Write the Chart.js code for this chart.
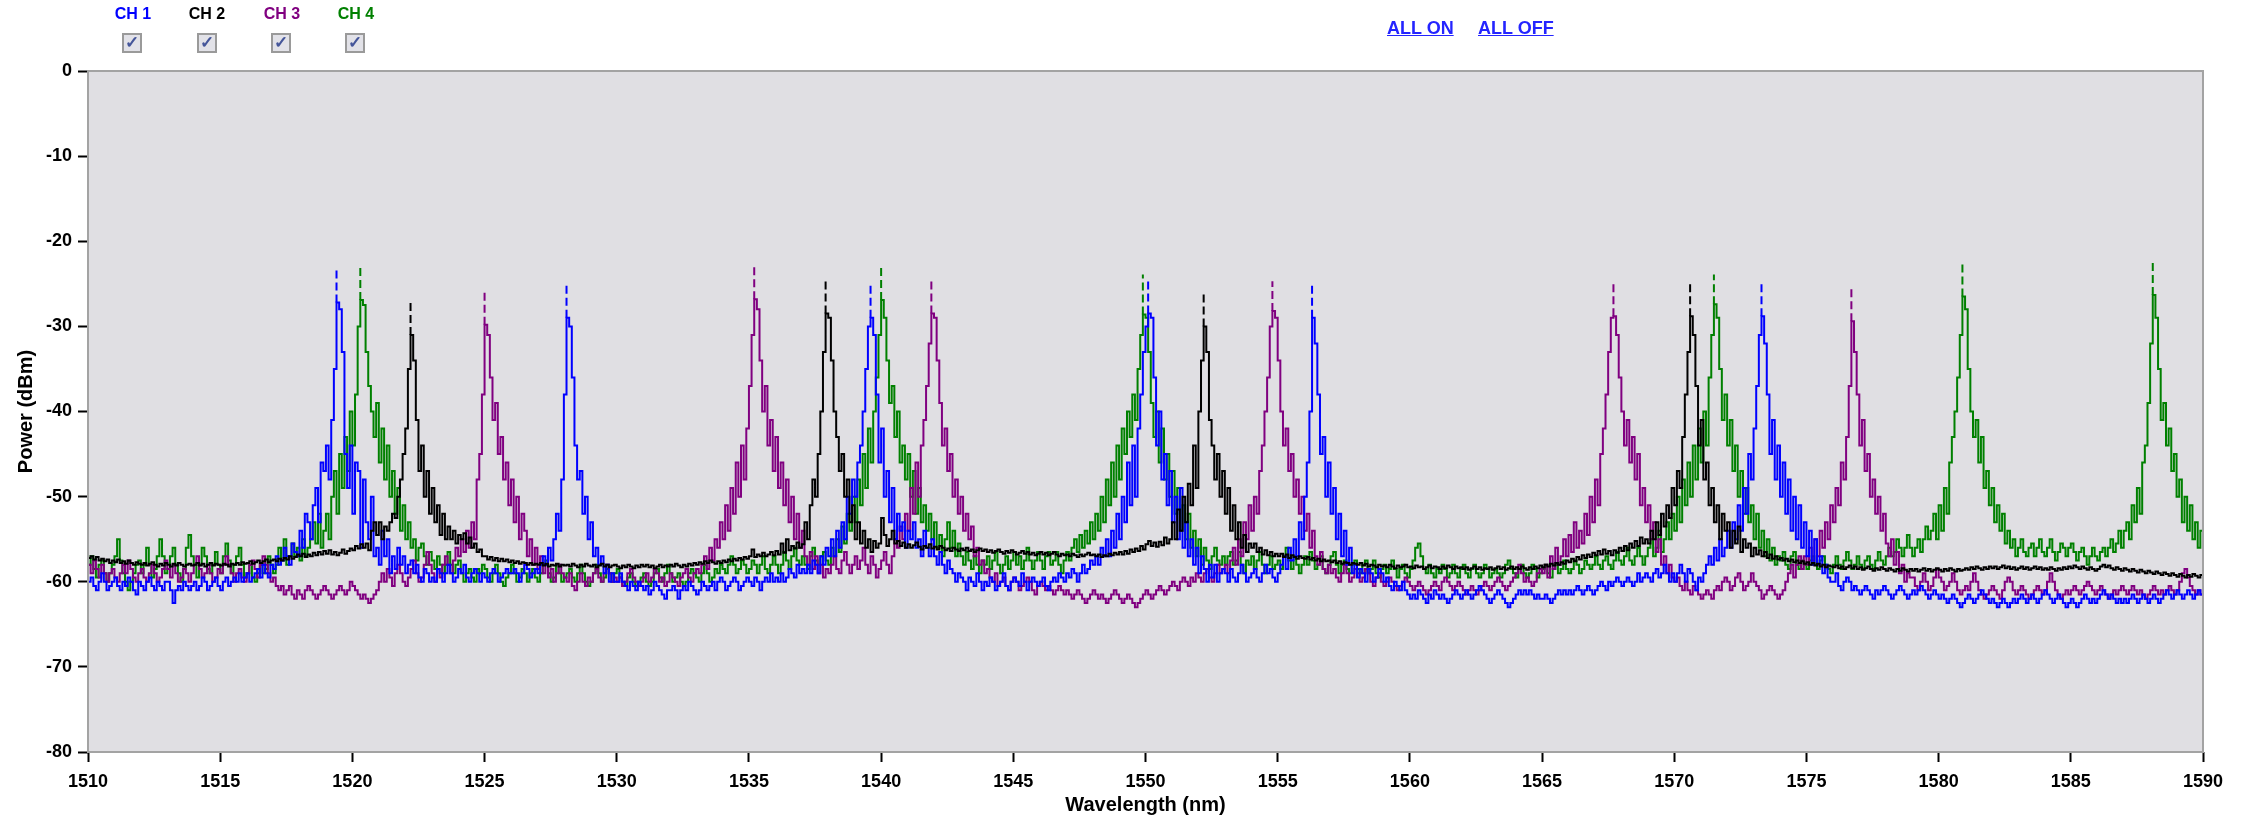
<!DOCTYPE html>
<html lang="en">
<head>
  <meta charset="UTF-8">
  <title>Optical spectrum - CH 1..4</title>
  <script src="https://cdn.jsdelivr.net/npm/chart.js"></script>
  <style>
    body { margin: 0; background: #fff; font-family: "Liberation Sans", Arial, sans-serif; }
    #wrap { position: relative; width: 2249px; height: 818px; }
    .ch { position: absolute; top: 5px; width: 70px; margin-left: -35px; text-align: center; font-weight: bold; font-size: 16px; }
    .box {
      position: absolute; top: 33px; width: 16px; height: 16px; margin-left: -10px;
      border: 2px solid #9a9a9a; background: #e2e2e8; color: #45569a;
      font-size: 17px; font-weight: bold; line-height: 16px; text-align: center;
    }
    .link { position: absolute; top: 18px; font-weight: bold; font-size: 18px; color: #2424ff; text-decoration: underline; }
  </style>
</head>
<body>
<div id="wrap">
  <div class="ch" style="left:133px;color:#0000ff">CH 1</div>
  <div class="ch" style="left:207px;color:#000">CH 2</div>
  <div class="ch" style="left:282px;color:#800080">CH 3</div>
  <div class="ch" style="left:356px;color:#008000">CH 4</div>
  <div class="box" style="left:132px">&#10003;</div>
  <div class="box" style="left:207px">&#10003;</div>
  <div class="box" style="left:281px">&#10003;</div>
  <div class="box" style="left:355px">&#10003;</div>
  <div class="link" style="left:1387px">ALL ON</div>
  <div class="link" style="left:1478px">ALL OFF</div>
  <canvas id="osa" width="2249" height="818"></canvas>
</div>

<script>
  // wavelength grid: one sample every 0.1 nm from 1510 to 1590 (one row = 1 nm)
  const WL_START = 1510;
  const WL_STEP = 0.1;
  const xTicks = [1510, 1515, 1520, 1525, 1530, 1535, 1540, 1545, 1550, 1555, 1560, 1565, 1570, 1575, 1580, 1585, 1590];
  const yTicks = [0, -10, -20, -30, -40, -50, -60, -70, -80];

  // CH 1 (blue) power, dBm
  const ch1Power = [
    -60,-59.5,-60.5,-61,-60,-59,-60,-61,-60.5,-60,
    -59.5,-60.5,-61,-60,-60.5,-59.5,-60,-61,-61.5,-60,
    -60.5,-61,-60,-59.5,-60.5,-61,-60,-60.5,-61,-60,
    -60,-61,-62.5,-61,-60.5,-61,-60,-60.5,-61,-60.5,
    -60,-61,-60.5,-59.5,-60,-61,-60.5,-60,-59.5,-60.5,
    -61,-60,-59.5,-60.5,-60,-59.5,-60,-59,-60,-59.5,
    -59,-60,-59.5,-59,-58.5,-59.5,-58,-59,-59.5,-58,
    -58.5,-57,-58,-57.5,-56,-57,-58,-55.5,-56.5,-57,
    -54,-56,-52,-53,-55,-51,-49,-53,-46,-47,
    -44,-48,-41,-35,-27.2,-28,-33,-45,-49,-44,
    -52,-46,-47,-56,-48,-53,-55,-50,-57,-56,
    -58,-54,-57,-55,-59,-57,-58.5,-56,-58,-57,
    -59,-58,-57.5,-59,-58,-59.5,-60,-58.5,-59,-60,
    -59.5,-60,-58.5,-59,-60,-59,-58,-59,-60,-59.5,
    -58.5,-59,-58,-59.5,-60,-59,-58.5,-59,-60,-59,
    -59.5,-60,-59,-58.5,-59,-60,-59.5,-59,-58.5,-59,
    -59,-58.5,-59,-60,-59,-58,-58.5,-59.5,-59,-58.5,
    -59,-58,-57,-58,-56,-57.5,-55,-52,-54,-48,
    -38,-29,-30,-36,-44,-48,-47,-52,-50,-55,
    -53,-57,-56,-58,-57,-59,-58,-60,-59,-60,
    -60,-59,-60,-60.5,-61,-60,-60.5,-61,-60,-60.5,
    -61,-60.5,-61.5,-61,-60,-60.5,-61,-61.5,-62,-61,
    -61,-60.5,-61,-62,-61,-60.5,-61,-60,-60.5,-61,
    -61.5,-61,-60,-60.5,-61,-60.5,-60,-61,-60,-59.5,
    -60,-61,-60.5,-60,-59.5,-60,-61,-60.5,-60,-59.5,
    -60,-60.5,-59.5,-60,-61,-60,-59.5,-60,-59,-60,
    -59.5,-60,-59,-60,-59.5,-58.5,-59,-59.5,-58,-59,
    -58.5,-59,-58,-59,-57.5,-58,-59,-57,-58,-56,
    -57,-55,-57,-54,-56,-53,-55,-50,-52,-48,
    -50,-46,-44,-40,-35,-30,-29,-31,-38,-46,
    -42,-50,-47,-53,-49,-55,-52,-54,-53,-56,
    -54,-55,-53,-56,-55,-57,-54,-56,-57,-55,
    -57,-58,-56.5,-58,-59,-57.5,-58.5,-59,-60,-59,
    -59.5,-60,-61,-59.5,-60,-60.5,-59,-60,-61,-60,
    -60.5,-59.5,-60,-61,-60.5,-60,-59,-60.5,-61,-60,
    -59.5,-60,-60.5,-59,-60,-61,-60,-59.5,-60,-60.5,
    -60,-59.5,-60.5,-61,-60,-59.5,-60,-59,-59.5,-60,
    -59,-59.5,-58.5,-59,-60,-59,-58,-59,-58.5,-57.5,
    -58,-57,-58,-56,-57,-55,-57,-54,-56,-52,
    -55,-50,-53,-46,-51,-44,-50,-42,-38,-33,
    -30,-28.5,-29,-36,-44,-40,-48,-45,-51,-47,
    -53,-50,-55,-49,-56,-53,-57,-55,-58,-56,
    -59,-57,-58.5,-60,-58,-59.5,-58,-60,-59,-58.5,
    -59,-60,-58.5,-59.5,-60,-59,-58,-59,-60,-59.5,
    -59,-58.5,-59.5,-60,-59,-58,-59,-58.5,-59.5,-60,
    -59,-58,-57,-58.5,-56,-57.5,-55,-57,-53,-55,
    -50,-46,-40,-29,-32,-38,-45,-43,-50,-46,
    -52,-49,-55,-52,-57,-54,-58,-56,-59,-58,
    -59.5,-58.5,-59,-60,-58.5,-59,-60,-59.5,-58.5,-59,
    -60,-59.5,-60.5,-61,-60,-60.5,-61,-60,-61,-61.5,
    -62,-61.5,-62,-61,-61.5,-62,-62.5,-61.5,-62,-61,
    -61.5,-62,-61.5,-62,-62.5,-62,-61.5,-61,-61.5,-62,
    -61.5,-61,-61.5,-62,-61.5,-61,-60.5,-61,-61.5,-62,
    -62.5,-62,-61.5,-61,-61.5,-62,-62.5,-63,-62.5,-62,
    -61.5,-61,-61.5,-61,-61.5,-61,-61.5,-62,-61.5,-62,
    -62,-61.5,-62,-62.5,-62,-61.5,-61,-61.5,-61,-61.5,
    -61,-61.5,-61,-60.5,-61,-61.5,-61,-60.5,-61,-61.5,
    -61,-60.5,-60,-60.5,-61,-60,-60.5,-60,-59.5,-60,
    -60.5,-60,-59.5,-60,-60.5,-60,-59,-60,-59.5,-59,
    -59.5,-60,-59,-58.5,-59.5,-59,-58,-59,-60,-59,
    -60,-59,-58,-59,-60,-58.5,-59,-60,-61,-59.5,
    -60,-59,-58,-57,-58,-56,-57.5,-55,-57,-56,
    -54,-56,-53,-55,-51,-54,-49,-52,-45,-48,
    -42,-37,-31,-28.8,-32,-38,-45,-41,-48,-44,
    -50,-46,-52,-48,-54,-50,-55,-51,-56,-53,
    -57,-54,-58,-55,-58,-57,-59,-58,-59.5,-60,
    -60,-59,-60.5,-61,-60,-59.5,-60,-61,-60.5,-61,
    -61.5,-61,-60.5,-61,-61.5,-62,-61,-61.5,-61,-60.5,
    -61,-61.5,-62,-61.5,-61,-60.5,-61,-61.5,-62,-61.5,
    -61,-61.5,-61,-60.5,-61,-61.5,-62,-61.5,-61,-61.5,
    -62,-61.5,-62,-62.5,-62,-61.5,-62,-62.5,-63,-62.5,
    -62,-61.5,-62,-62.5,-62,-61.5,-61,-61.5,-62,-62.5,
    -62,-62.5,-63,-62.5,-62,-62.5,-63,-62.5,-62,-62.5,
    -62,-61.5,-62,-62.5,-62,-61.5,-62,-62.5,-62,-61.5,
    -61,-61.5,-62,-62.5,-62,-61.5,-62,-62.5,-63,-62.5,
    -62,-62.5,-63,-62.5,-62,-61.5,-62,-62.5,-62,-62.5,
    -62,-61.5,-61,-61.5,-62,-61.5,-62,-62.5,-62,-62.5,
    -62,-62.5,-62,-61.5,-62,-62.5,-62,-61.5,-62,-62.5,
    -62,-61.5,-62,-62.5,-62,-61.5,-61,-61.5,-62,-61.5,
    -61,-61.5,-62,-61.5,-61,-61.5,-62,-61.5,-61,-61.5,
    -61.5
  ];

  // CH 2 (black) power, dBm
  const ch2Power = [
    -57.2,-57,-57.4,-57.1,-57.5,-57.3,-57.6,-57.4,-57.8,-57.5,
    -57.7,-57.4,-57.8,-57.6,-57.9,-57.5,-57.8,-58,-57.7,-57.9,
    -58,-57.8,-58.1,-57.9,-57.7,-58,-58.2,-57.9,-58.1,-57.8,
    -58,-58.2,-57.9,-58.1,-57.8,-58,-58.2,-58,-57.9,-58.1,
    -58,-57.8,-58.1,-57.9,-58.2,-58,-57.8,-58.1,-57.9,-58,
    -58.1,-57.9,-58,-58.2,-57.9,-58,-57.8,-58,-57.7,-57.9,
    -57.8,-57.6,-57.9,-57.7,-57.5,-57.8,-57.6,-57.4,-57.7,-57.5,
    -57.4,-57.6,-57.3,-57.5,-57.2,-57.4,-57,-57.3,-57.1,-56.8,
    -57,-56.7,-57.1,-56.8,-57,-56.6,-56.9,-56.5,-56.8,-56.4,
    -56.7,-56.3,-56.8,-56.5,-56.9,-56.6,-56.2,-56.7,-56.4,-56.1,
    -56.3,-55.8,-56.1,-55.6,-56,-55.5,-56.3,-54,-53,-54.5,
    -53,-55,-53.5,-54,-53,-52,-52.5,-50,-48,-45,
    -42,-35,-31,-34,-41,-47,-44,-50,-47,-52,
    -49,-53,-51,-54.5,-52,-55,-53.5,-55,-54,-55.5,
    -54.5,-55,-54.3,-55.5,-54.8,-56,-55.5,-56.5,-56.2,-57,
    -57,-57.4,-57.1,-57.5,-57.2,-57.6,-57.3,-57.6,-57.4,-57.7,
    -57.5,-57.8,-57.6,-57.9,-57.7,-57.8,-58,-57.8,-58,-57.9,
    -58,-57.8,-58.1,-57.9,-58.2,-58,-58.1,-57.9,-58.2,-58,
    -58.1,-58,-58.2,-57.9,-58.1,-58.3,-58,-58.2,-57.9,-58.1,
    -58.2,-58,-58.3,-58.1,-57.9,-58.2,-58,-58.3,-58.1,-58,
    -58.2,-58.4,-58.1,-58.3,-58,-58.2,-58.4,-58.1,-58.3,-58,
    -58.2,-58,-58.3,-58.1,-58.4,-58.2,-58,-58.3,-58.1,-58.2,
    -58,-58.2,-57.9,-58.1,-58.3,-58,-58.2,-57.9,-58.1,-57.8,
    -58,-57.7,-57.9,-57.6,-57.8,-57.5,-57.7,-57.9,-57.6,-57.8,
    -57.5,-57.7,-57.4,-57.6,-57.3,-57.5,-57.2,-57.4,-57.1,-57.3,
    -57,-56.2,-57.1,-56.8,-57,-56.6,-57,-56.8,-56.5,-56.9,
    -56.4,-56.8,-55.5,-56.6,-55,-56.3,-55.8,-56.1,-55.4,-56,
    -55.6,-53,-55,-51,-48,-50,-45,-40,-33,-28.5,
    -29,-34,-40,-43,-47,-45,-50,-48,-53,-51,
    -55,-53,-55.5,-54,-56,-55,-56.5,-55.2,-56,-55.5,
    -52.5,-54.5,-55.8,-55,-54,-55.5,-55.2,-55.8,-55.4,-56,
    -55.6,-56,-55.7,-55.4,-55.9,-56.2,-55.8,-56,-55.6,-56.1,
    -55.9,-56.2,-55.8,-56,-56.3,-56.1,-56.4,-56,-56.2,-56.4,
    -56.1,-56.3,-56,-56.4,-56.2,-56.5,-56.3,-56.1,-56.4,-56.2,
    -56.5,-56.3,-56.6,-56.4,-56.2,-56.5,-56.7,-56.4,-56.6,-56.3,
    -56.5,-56.8,-56.6,-56.4,-56.7,-56.5,-56.8,-56.6,-56.9,-56.7,
    -56.5,-56.8,-56.6,-56.9,-56.7,-56.5,-56.8,-57,-56.7,-56.9,
    -56.8,-57,-56.7,-56.9,-57.1,-56.8,-57,-56.8,-56.6,-56.9,
    -56.8,-57,-56.8,-57.1,-56.9,-57,-56.7,-56.9,-56.6,-56.8,
    -56.5,-56.8,-56.4,-56.7,-56.2,-56.5,-56.1,-56.4,-55.8,-56.2,
    -55.6,-55.2,-55.8,-55.4,-55.9,-55.3,-55.7,-54.8,-55.5,-55,
    -53,-55,-51.5,-54,-50,-53,-48.5,-51,-44,-49,
    -40,-34,-30,-33,-41,-44,-48,-45,-50,-47,
    -52,-49,-54,-51,-55,-53,-56,-54.5,-56.5,-55.5,
    -56,-55.5,-56.5,-56,-56.8,-56.3,-56.9,-56.5,-57,-56.7,
    -57,-56.7,-57.1,-56.8,-57.2,-56.9,-57.1,-57.3,-57,-57.2,
    -57.3,-57.1,-57.4,-57.2,-57.5,-57.3,-57.6,-57.4,-57.6,-57.5,
    -57.7,-57.5,-57.8,-57.6,-57.9,-57.7,-57.8,-58,-57.8,-57.9,
    -58,-57.8,-58.1,-57.9,-58.2,-58,-58.1,-58.3,-58,-58.2,
    -58.1,-58.3,-58,-58.2,-58.4,-58.1,-58.3,-58.2,-58,-58.3,
    -58.2,-58.4,-58.1,-58.3,-58.2,-58.5,-58.3,-58.1,-58.4,-58.2,
    -58.3,-58.5,-58.2,-58.4,-58.1,-58.3,-58.5,-58.2,-58.4,-58.3,
    -58.5,-58.3,-58.6,-58.4,-58.2,-58.5,-58.3,-58.6,-58.4,-58.5,
    -58.3,-58.6,-58.4,-58.2,-58.5,-58.3,-58.6,-58.4,-58.2,-58.5,
    -58.3,-58.5,-58.2,-58.4,-58.6,-58.3,-58.5,-58.2,-58.4,-58.1,
    -58.3,-58,-58.2,-57.9,-58.1,-57.8,-58,-57.7,-57.9,-57.5,
    -57.7,-57.3,-57.6,-57.1,-57.4,-56.9,-57.2,-56.8,-57.1,-56.6,
    -56.9,-56.4,-56.8,-56.2,-56.7,-56.4,-56.9,-56.3,-56.6,-56,
    -56.4,-55.8,-56.3,-55.5,-56,-55.2,-55.8,-54.8,-55.5,-55,
    -55.5,-54,-55,-53,-54.5,-52,-53.5,-51,-52.5,-49,
    -51,-47,-49,-43,-38,-33,-28.8,-31,-37,-44,
    -41,-48,-46,-51,-49,-53,-51,-55,-52,-54,
    -53,-56,-54,-55.5,-53.5,-56.5,-55,-56,-55.5,-57,
    -56,-56.8,-56.3,-57,-56.5,-57.2,-56.8,-57.3,-57,-57.4,
    -57.2,-57.5,-57.3,-57.6,-57.4,-57.7,-57.5,-57.8,-57.6,-57.9,
    -57.7,-58,-57.8,-58.1,-57.9,-58.2,-58,-58.3,-58.1,-58.2,
    -58.3,-58.1,-58.4,-58.2,-58.5,-58.3,-58.1,-58.4,-58.2,-58.5,
    -58.3,-58.6,-58.4,-58.2,-58.5,-58.7,-58.4,-58.6,-58.3,-58.5,
    -58.7,-58.4,-58.6,-58.8,-58.5,-58.7,-58.4,-58.6,-58.8,-58.5,
    -58.7,-58.5,-58.8,-58.6,-58.4,-58.7,-58.5,-58.8,-58.6,-58.4,
    -58.6,-58.8,-58.5,-58.7,-58.4,-58.6,-58.8,-58.5,-58.7,-58.6,
    -58.4,-58.6,-58.3,-58.5,-58.2,-58.4,-58.6,-58.3,-58.5,-58.2,
    -58.4,-58.2,-58.5,-58.3,-58.1,-58.4,-58.2,-58.5,-58.3,-58.6,
    -58.4,-58.2,-58.5,-58.3,-58.6,-58.4,-58.2,-58.5,-58.3,-58.6,
    -58.4,-58.6,-58.3,-58.5,-58.7,-58.4,-58.6,-58.3,-58.5,-58.2,
    -58.4,-58.1,-58.3,-58.5,-58.2,-58.4,-58.6,-58.3,-58.5,-58.7,
    -58.5,-58.2,-58,-58.3,-58.1,-58.4,-58.6,-58.3,-58.5,-58.7,
    -58.4,-58.6,-58.8,-58.5,-58.7,-58.9,-58.6,-58.8,-59,-58.7,
    -58.9,-59.1,-58.8,-59,-59.2,-58.9,-59.1,-59.3,-59,-59.2,
    -59.4,-59.1,-59.3,-59.5,-59.2,-59.4,-59.1,-59.3,-59.5,-59.2,
    -59.3
  ];

  // CH 3 (purple) power, dBm
  const ch3Power = [
    -58,-59,-57.5,-58.5,-59.5,-58,-59,-60,-59,-58.5,
    -59.5,-60,-59,-58,-59,-57.5,-58.5,-59.5,-60,-59,
    -58.5,-59.5,-60,-59,-58,-59,-60,-59.5,-58.5,-57.5,
    -58.5,-59.5,-58,-59,-60,-59.5,-58.5,-59,-60,-59,
    -58,-57,-58.5,-59.5,-59,-58,-59,-60,-59.5,-58.5,
    -59,-58,-57,-58,-59,-60,-59,-58.5,-59.5,-60,
    -59,-58,-57.5,-58.5,-59.5,-58,-57,-58,-59,-60,
    -59.5,-60.5,-61,-60.5,-61.5,-61,-60.5,-61.5,-62,-61,
    -61.5,-62,-61,-60.5,-61,-61.5,-62,-61.5,-61,-60.5,
    -61,-61.5,-62,-61.5,-61,-60.5,-61,-61.5,-61,-60,
    -60.5,-61,-61.5,-62,-61.5,-62,-62.5,-62,-61.5,-61,
    -60,-59,-60,-58.5,-59.5,-60.5,-59,-58,-59,-60,
    -60.5,-59.5,-58.5,-57.5,-59,-60,-59.5,-58,-56.5,-58,
    -59,-60,-58.5,-59.5,-58,-57,-58,-59,-57.5,-56,
    -57,-55,-56.5,-54,-56,-53,-55,-48,-45,-38,
    -29.8,-31,-36,-41,-39,-45,-43,-48,-46,-51,
    -48,-53,-50,-55,-52,-54,-57,-55,-58,-56,
    -58.5,-57,-59,-58,-59.5,-58.5,-60,-59,-58,-59,
    -59.5,-60,-59,-60.5,-61,-60,-59,-60,-60.5,-59.5,
    -60,-59,-58.5,-59.5,-60,-59,-58,-59,-60,-59.5,
    -60,-59.5,-60.5,-60,-59,-58.5,-59.5,-60,-60.5,-60,
    -59.5,-59,-60,-59.5,-58.5,-59,-60,-59.5,-60.5,-60,
    -59,-59.5,-60,-60.5,-59.5,-59,-58.5,-59.5,-60,-59,
    -58.5,-59,-58,-57,-58.5,-56,-57.5,-55,-56,-53,
    -55,-51,-54,-49,-52,-46,-50,-44,-48,-42,
    -37,-31,-26.8,-28,-34,-40,-37,-44,-41,-47,
    -43,-49,-46,-51,-48,-53,-50,-55,-52,-56,
    -54,-57,-58,-56.5,-58.5,-57,-59,-58,-59.5,-58.5,
    -59,-58,-57,-58.5,-59,-57.5,-56.5,-58,-59,-58,
    -57,-58.5,-57.5,-56,-58,-59,-57,-58,-59.5,-58.5,
    -57.5,-56.5,-58,-59,-57,-55,-56,-53.5,-55,-52,
    -54,-49,-52,-46,-50,-44,-41,-37,-32,-28.5,
    -29,-34,-39,-44,-42,-47,-45,-50,-48,-52,
    -50,-54,-52,-55,-53.5,-57,-56,-58,-57.5,-59,
    -58.5,-59.5,-60,-59,-60.5,-60,-59.5,-60.5,-61,-60,
    -59.5,-60,-61,-60.5,-60,-59.5,-60,-61,-61.5,-60.5,
    -60,-60.5,-61,-60.5,-61,-61.5,-61,-60.5,-61,-61.5,
    -61,-61.5,-62,-61.5,-61,-61.5,-62,-62.5,-62,-61.5,
    -61,-61.5,-62,-61.5,-62,-62.5,-62,-61.5,-61,-61.5,
    -62,-62.5,-62,-61.5,-62,-62.5,-63,-62.5,-62,-61.5,
    -61,-61.5,-62,-61.5,-61,-60.5,-61,-61.5,-61,-60.5,
    -60,-60.5,-61,-60,-59.5,-60,-60.5,-59.5,-60,-59,
    -59.5,-60,-59,-58.5,-59.5,-60,-59,-58,-59,-58.5,
    -58,-59,-57.5,-56,-58,-55,-57,-53,-55,-51,
    -54,-50,-52,-47,-44,-40,-36,-30,-28.2,-29,
    -34,-40,-44,-42,-47,-45,-50,-48,-52,-50,
    -54,-52,-56,-54,-57,-58,-56.5,-58.5,-59,-58,
    -59,-58.5,-59.5,-60,-59,-58,-59,-60,-59.5,-58.5,
    -59,-60,-59.5,-58.5,-59,-60,-60.5,-59.5,-59,-60,
    -60.5,-60,-59.5,-60,-60.5,-61,-60.5,-60,-59.5,-60,
    -60.5,-61,-60.5,-60,-60.5,-61,-61.5,-61,-60.5,-60,
    -60.5,-61,-60,-59.5,-60,-60.5,-61,-60.5,-60,-60.5,
    -61,-61.5,-61,-60.5,-61,-61.5,-61,-60.5,-60,-60.5,
    -61,-60.5,-60,-59.5,-60,-60.5,-61,-60.5,-60,-59.5,
    -59,-58,-59,-60,-59.5,-60,-60.5,-60,-59,-58.5,
    -59,-58,-59.5,-57,-58.5,-56,-58,-57,-55,-57,
    -54.5,-56.5,-53,-56,-54,-55.5,-52,-54.5,-50,-53,
    -48,-51,-45,-42,-38,-33,-29,-28.8,-31,-36,
    -40,-44,-41,-46,-43,-48,-45,-51,-49,-53,
    -51,-55,-53,-56.5,-55,-58,-57,-59,-58,-59.5,
    -60,-59.5,-60.5,-61,-60,-61,-61.5,-60.5,-61,-61.5,
    -62,-61.5,-61,-61.5,-62,-61,-60.5,-61,-60,-59.5,
    -60,-61,-60.5,-59.5,-59,-60,-61,-60.5,-60,-59,
    -60,-60.5,-61,-62,-61.5,-61,-60.5,-61,-61.5,-62,
    -61.5,-61,-60,-59,-58,-59.5,-58,-57,-58.5,-57,
    -58,-56,-57.5,-55,-57,-54,-56,-53,-55,-51,
    -53,-49,-51,-46,-48,-43,-37,-29.4,-33,-38,
    -44,-41,-47,-45,-50,-48,-52,-50,-54,-52,
    -55.5,-57,-55,-58,-56.5,-59,-58,-60,-59,-59.5,
    -59.5,-60.5,-61,-60,-59,-60,-61,-60.5,-59.5,-58.5,
    -59.5,-60,-61,-60.5,-60,-59,-60,-61,-61.5,-61,
    -60.5,-61,-60,-59,-60,-61,-61.5,-62,-61.5,-61,
    -60.5,-61,-61.5,-62,-61,-60,-59.5,-60,-61,-61.5,
    -61,-60.5,-61,-61.5,-62,-61.5,-61,-60.5,-61,-61.5,
    -61,-60,-59,-60,-61,-61.5,-62,-61.5,-61,-61.5,
    -61,-60.5,-61,-61.5,-61,-60.5,-60,-60.5,-61,-61.5,
    -61,-60.5,-61,-61.5,-62,-61.5,-61,-61.5,-61,-60.5,
    -61,-61.5,-61,-60.5,-61,-61.5,-61,-61.5,-62,-61.5,
    -61,-60.5,-61,-61.5,-61,-61.5,-61,-60.5,-61,-61.5,
    -61,-60,-59,-58.5,-59.5,-60.5,-61,-61.5,-61,-61.5,
    -61.5
  ];

  // CH 4 (green) power, dBm
  const ch4Power = [
    -58,-57,-58.5,-59.5,-58,-57.5,-59,-60,-59,-58,
    -57,-55,-57.5,-59,-60,-61,-60,-59,-58,-57.5,
    -59,-58,-56,-58,-59.5,-58.5,-57,-55,-57,-59,
    -58.5,-57,-56,-58,-59,-60,-58.5,-56,-54.5,-57,
    -58,-59.5,-58,-56,-57,-58.5,-59,-58,-56.5,-58,
    -59,-57,-55.5,-57.5,-59,-58,-57,-56,-58,-59.5,
    -59,-58,-59.5,-60,-59,-58,-59,-58.5,-57,-58,
    -59,-58,-56,-57.5,-55,-58,-57,-55.5,-57,-56,
    -57.5,-55,-57,-56,-55,-53,-55.5,-52,-56,-54,
    -52,-55,-50,-47,-52,-45,-49,-43,-47,-40,
    -44,-38,-30,-26.9,-27.5,-33,-37,-40,-43,-39,
    -46,-42,-48,-44,-50,-47,-52,-49,-54,-51,
    -55,-53,-56,-55,-57.5,-56,-55.5,-57,-58,-56.5,
    -57.5,-58.5,-57,-58,-59,-58,-56.5,-58,-59,-58,
    -57.5,-59,-60,-59,-58.5,-59.5,-60,-58.5,-59,-58,
    -58.5,-59.5,-60,-59,-58,-59,-60,-60.5,-59.5,-59,
    -58,-59,-60,-59.5,-58.5,-59,-60,-59,-58.5,-59.5,
    -60,-59,-58,-57.5,-59,-60,-59.5,-58,-59,-60,
    -59.5,-59,-58.5,-59.5,-60,-59,-58,-59,-60,-60.5,
    -60,-59,-58,-59,-60,-59.5,-58.5,-59,-60,-59,
    -58.5,-59.5,-60,-60.5,-59.5,-59,-60,-60.5,-60,-59.5,
    -59,-60,-60.5,-60,-59,-58.5,-59.5,-60,-59,-58,
    -59,-60,-59.5,-59,-60,-60.5,-60,-59,-58.5,-59,
    -59.5,-60,-59,-58,-59,-60,-59.5,-58.5,-59,-58,
    -58.5,-59,-58,-57,-58,-59,-58.5,-57.5,-58,-59,
    -58.5,-57.5,-58,-59,-58,-57,-58.5,-59,-58,-57,
    -58,-59,-58,-56.5,-57.5,-58.5,-57,-56,-57.5,-58,
    -57,-58,-58.5,-57,-56,-57.5,-58,-57,-56.5,-57.5,
    -58,-56,-57,-55,-56.5,-53.5,-55.5,-52,-54,-50,
    -53,-48,-51,-45,-49,-42,-46,-40,-36,-31,
    -26.9,-29,-34,-39,-37,-43,-40,-46,-44,-48,
    -45,-50,-47,-52,-49,-53,-51,-54,-52,-55,
    -53,-56,-54.5,-57,-55,-53,-56,-54,-57,-55.5,
    -57,-58,-56.5,-57.5,-58.5,-57,-58,-59,-57.5,-58,
    -57,-58.5,-57.5,-56.5,-58,-59,-58,-57,-58.5,-57.5,
    -56.5,-58,-57,-58.5,-57.5,-56,-57.5,-58.5,-57.5,-56.5,
    -57.5,-58.5,-57,-56.5,-58,-57.5,-56.5,-58,-59,-57.5,
    -56.5,-57.5,-56,-55,-56.5,-54.5,-56,-54,-55.5,-53,
    -55,-52,-54,-50,-53,-48,-51,-46,-50,-44,
    -48,-42,-45,-40,-43,-38,-41,-35,-31,-28.6,
    -29,-33,-39,-43,-40,-46,-42,-48,-45,-50,
    -47,-52,-49,-54,-51,-55,-52,-56,-54,-57,
    -55,-58,-56,-57.5,-58.5,-57,-56,-57.5,-58,-57,
    -58,-57,-56.5,-58,-57.5,-56.5,-58,-59,-57.5,-58,
    -57,-58.5,-57.5,-56.5,-58,-59,-58,-57,-58.5,-58,
    -57.5,-58.5,-57,-56,-57.5,-58.5,-57,-58,-59,-58,
    -57,-58,-56.5,-57.5,-58.5,-58,-57,-58.5,-59,-58,
    -57,-56.5,-58,-59,-58,-57.5,-58.5,-59,-58,-57.5,
    -58.5,-59,-58,-57.5,-59,-58.5,-57.5,-59,-59.5,-58.5,
    -58,-59,-58.5,-57.5,-58.5,-59.5,-58.5,-58,-59,-59.5,
    -58.5,-57.5,-56,-55.5,-57,-58.5,-59,-58,-59,-59.5,
    -58.5,-59,-58,-58.5,-59.5,-59,-58,-59,-59.5,-58.5,
    -58,-59,-59.5,-58.5,-58,-59,-59.5,-59,-58,-58.5,
    -59.5,-59,-58.5,-59,-59.5,-59,-58,-57.5,-58.5,-59,
    -59.5,-58.5,-58,-59,-59.5,-59,-58,-58.5,-59.5,-59,
    -58.5,-58,-59,-59.5,-58.5,-58,-59,-58.5,-57.5,-58.5,
    -59,-58.5,-57.5,-58,-59,-58.5,-57.5,-58,-58.5,-58,
    -57,-58,-58.5,-57.5,-57,-58,-58.5,-57.5,-56.5,-57.5,
    -58,-57,-56,-57.5,-58,-57,-56,-57,-58,-57,
    -56,-55,-57,-56,-54,-56.5,-55,-53,-55,-52,
    -54,-50,-53,-48,-51,-46,-50,-44,-48,-42,
    -46,-40,-44,-36,-31,-27.4,-29,-35,-41,-38,
    -44,-41,-47,-44,-50,-47,-52,-49,-53,-51,
    -55,-52,-56,-54,-57,-55,-57.5,-56,-58,-57,
    -57.5,-56.5,-58,-58.5,-57,-56.5,-58,-58.5,-57.5,-58,
    -58.5,-57.5,-57,-58,-58.5,-57.5,-57,-58,-58.5,-59,
    -58,-57,-58,-58.5,-57.5,-56.5,-57.5,-58.5,-58,-57,
    -58,-58.5,-57.5,-57,-58,-58.5,-57.5,-56.5,-57.5,-58,
    -57,-56,-57,-56.5,-55,-56,-57,-56,-54.5,-56,
    -57,-56,-55,-56.5,-55,-53.5,-55,-54,-52,-55,
    -51,-54,-49,-52,-46,-43,-40,-36,-31,-26.5,
    -28,-35,-40,-43,-41,-46,-43,-49,-47,-51,
    -49,-53,-51,-54,-52,-55.5,-54,-56,-55,-57,
    -56,-55,-56.5,-57,-56,-55.5,-57,-56,-55,-56.5,
    -57,-56,-55,-56.5,-57.5,-56.5,-55.5,-56,-57,-56,
    -55.5,-56.5,-57.5,-56.5,-56,-57,-58,-57,-56,-57,
    -57.5,-56.5,-56,-57,-56,-55,-56.5,-55.5,-54,-56,
    -54,-53,-55,-51,-53,-49,-52,-46,-44,-39,
    -32,-26.3,-29,-35,-41,-39,-44,-42,-47,-45,
    -50,-48,-53,-50,-54,-51,-55,-53,-56,-54,
    -56
  ];

  // dashed peak markers: wavelength, trace top, marker top
  const ch1PeakWl = [1519.4, 1528.1, 1539.6, 1550.1, 1556.3, 1573.3];
  const ch1PeakLow = [-27.2, -29, -29, -28.5, -29, -28.8];
  const ch1PeakHigh = [-23.2, -25.1, -25.2, -24.5, -25.0, -24.8];
  const ch2PeakWl = [1522.2, 1537.9, 1552.2, 1570.6];
  const ch2PeakLow = [-31, -28.5, -30, -28.8];
  const ch2PeakHigh = [-27.0, -24.5, -25.9, -24.7];
  const ch3PeakWl = [1525.0, 1535.2, 1541.9, 1554.8, 1567.7, 1576.7];
  const ch3PeakLow = [-29.8, -26.8, -28.5, -28.2, -28.8, -29.4];
  const ch3PeakHigh = [-26.0, -22.9, -24.5, -24.7, -25.0, -25.6];
  const ch4PeakWl = [1520.3, 1540.0, 1549.9, 1571.5, 1580.9, 1588.1];
  const ch4PeakLow = [-26.9, -26.9, -28.6, -27.4, -26.5, -26.3];
  const ch4PeakHigh = [-22.9, -22.9, -23.9, -23.9, -22.7, -22.5];

  const CH_COLORS = ["#0000ff", "#000000", "#800080", "#008000"];

  function trace(power) {
    return power.map((p, i) => ({ x: +(WL_START + i * WL_STEP).toFixed(1), y: p }));
  }
  function markers(wl, low, high) {
    const pts = [];
    wl.forEach((w, i) => {
      pts.push({ x: w, y: low[i] }, { x: w, y: high[i] }, { x: w, y: null });
    });
    return pts;
  }

  const traces = [ch1Power, ch2Power, ch3Power, ch4Power];
  const peaks = [
    [ch1PeakWl, ch1PeakLow, ch1PeakHigh],
    [ch2PeakWl, ch2PeakLow, ch2PeakHigh],
    [ch3PeakWl, ch3PeakLow, ch3PeakHigh],
    [ch4PeakWl, ch4PeakLow, ch4PeakHigh],
  ];
  // black on top, then blue, purple, green
  const drawOrder = [1, 0, 2, 3];

  const datasets = [];
  traces.forEach((pw, c) => {
    datasets.push({
      label: "CH " + (c + 1),
      data: trace(pw),
      borderColor: CH_COLORS[c],
      borderWidth: 2,
      stepped: true,
      pointRadius: 0,
      order: drawOrder[c],
    });
    datasets.push({
      label: "CH " + (c + 1) + " peaks",
      data: markers(peaks[c][0], peaks[c][1], peaks[c][2]),
      borderColor: CH_COLORS[c],
      borderWidth: 2,
      borderDash: [8, 4],
      pointRadius: 0,
      spanGaps: false,
      order: drawOrder[c],
    });
  });

  // grey plot background and frame
  const plotFrame = {
    id: "plotFrame",
    beforeDraw(chart) {
      const { ctx, chartArea: a } = chart;
      ctx.save();
      ctx.fillStyle = "#e0dfe3";
      ctx.fillRect(a.left, a.top, a.right - a.left, a.bottom - a.top);
      ctx.restore();
    },
    afterDatasetsDraw(chart) {
      const { ctx, chartArea: a } = chart;
      ctx.save();
      ctx.strokeStyle = "#a3a3a3";
      ctx.lineWidth = 2;
      ctx.strokeRect(a.left, a.top, a.right - a.left, a.bottom - a.top);
      ctx.restore();
    }
  };

  const tickFont = { family: "'Liberation Sans', Arial, sans-serif", size: 18, weight: "bold" };
  const titleFont = { family: "'Liberation Sans', Arial, sans-serif", size: 20, weight: "bold" };

  new Chart(document.getElementById("osa"), {
    type: "line",
    data: { datasets: datasets },
    options: {
      responsive: false,
      animation: false,
      layout: { padding: { top: 71, right: 46, left: 0, bottom: 0 } },
      plugins: { legend: { display: false }, tooltip: { enabled: false } },
      scales: {
        x: {
          type: "linear",
          min: xTicks[0],
          max: xTicks[xTicks.length - 1],
          afterBuildTicks(scale) { scale.ticks = xTicks.map(v => ({ value: v })); },
          afterFit(scale) { scale.height = 66; },
          grid: { drawOnChartArea: false, drawTicks: true, tickLength: 10, tickColor: "#000", tickWidth: 2 },
          border: { display: false },
          ticks: { font: tickFont, color: "#000", padding: 9, maxRotation: 0, autoSkip: false, callback: v => String(v) },
          title: { display: true, text: "Wavelength (nm)", font: titleFont, color: "#000", padding: { top: 0, bottom: 1 } },
        },
        y: {
          type: "linear",
          min: yTicks[yTicks.length - 1],
          max: yTicks[0],
          afterBuildTicks(scale) { scale.ticks = yTicks.slice().reverse().map(v => ({ value: v })); },
          afterFit(scale) { scale.width = 88; },
          grid: { drawOnChartArea: false, drawTicks: true, tickLength: 10, tickColor: "#000", tickWidth: 2 },
          border: { display: false },
          ticks: { font: tickFont, color: "#000", padding: 6, autoSkip: false, callback: v => String(v) },
          title: { display: true, text: "Power (dBm)", font: titleFont, color: "#000", padding: { top: 14, bottom: 0 } },
        },
      },
    },
    plugins: [plotFrame],
  });
</script>
</body>
</html>
